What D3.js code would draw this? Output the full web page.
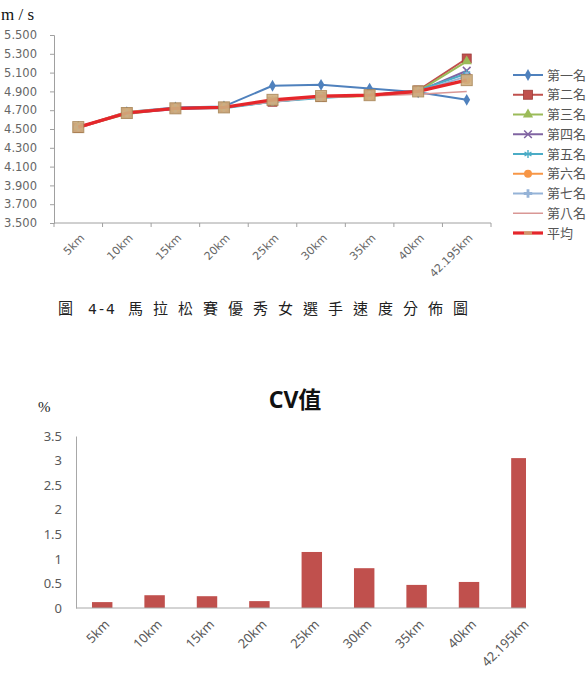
<!DOCTYPE html>
<html>
<head>
    <meta charset="utf-8">
    <title>speed distribution</title>
    <script type="text/javascript" src="https://cdn.jsdelivr.net/npm/d3@7/dist/d3.min.js"></script>
    <style>
        body { margin: 0; background: #fff; }
        svg { display: block; }
    </style>
</head>
<body>
<script type="text/javascript">

var distances = ["5km","10km","15km","20km","25km","30km","35km","40km","42.195km"]

// speed (m/s) per runner at each split
var runner1 = [4.52, 4.68, 4.73, 4.74, 4.96, 4.97, 4.93, 4.89, 4.81]
var runner2 = [4.51, 4.67, 4.72, 4.73, 4.79, 4.84, 4.86, 4.91, 5.25]
var runner3 = [4.52, 4.66, 4.72, 4.73, 4.79, 4.84, 4.85, 4.90, 5.22]
var runner4 = [4.52, 4.67, 4.71, 4.73, 4.80, 4.84, 4.86, 4.90, 5.12]
var runner5 = [4.52, 4.67, 4.72, 4.72, 4.79, 4.83, 4.86, 4.91, 5.09]
var runner6 = [4.52, 4.68, 4.72, 4.73, 4.80, 4.84, 4.85, 4.90, 5.02]
var runner7 = [4.52, 4.67, 4.72, 4.73, 4.79, 4.84, 4.86, 4.90, 5.06]
var runner8 = [4.51, 4.67, 4.72, 4.73, 4.79, 4.84, 4.85, 4.87, 4.90]
var average = [4.52, 4.67, 4.72, 4.73, 4.81, 4.85, 4.86, 4.90, 5.02]

var seriesNames = ["第一名","第二名","第三名","第四名","第五名","第六名","第七名","第八名","平均"]
var speedTicks = [3.5, 3.7, 3.9, 4.1, 4.3, 4.5, 4.7, 4.9, 5.1, 5.3, 5.5]

// coefficient of variation (%) at each split
var cvValues = [0.12, 0.26, 0.24, 0.14, 1.14, 0.81, 0.47, 0.53, 3.05]
var cvTicks = [0, 0.5, 1, 1.5, 2, 2.5, 3, 3.5]

var width = 586
var height = 688
var svg = d3.select("body").append("svg").attr("width", width).attr("height", height)

// ---------- top chart: line chart ----------
var allSeries = [runner1, runner2, runner3, runner4, runner5, runner6, runner7, runner8, average]
var styles = [
    {color:"#4F81BD", w:2,   marker:"diamond"},
    {color:"#C0504D", w:2,   marker:"square"},
    {color:"#9BBB59", w:2,   marker:"triangle"},
    {color:"#8064A2", w:2,   marker:"cross"},
    {color:"#4BACC6", w:2,   marker:"star"},
    {color:"#F79646", w:2,   marker:"circle"},
    {color:"#95B3D7", w:2,   marker:"plus"},
    {color:"#D99795", w:1.5, marker:"none"},
    {color:"#E5262B", w:3.2, marker:"avg"}
]

var xTop = d3.scaleBand().domain(distances).range([54, 491])
var yTop = d3.scaleLinear().domain([3.5, 5.5]).range([223, 35])

var topChart = svg.append("g")

var yAxisTop = topChart.append("g")
    .attr("transform", "translate(54,0)")
    .call(d3.axisLeft(yTop).tickValues(speedTicks).tickFormat(d3.format(".3f")).tickSize(4).tickPadding(13))
yAxisTop.select(".domain").attr("stroke", "#a0a0a0")
yAxisTop.selectAll(".tick line").attr("stroke", "#a0a0a0")
yAxisTop.selectAll(".tick text")
    .attr("font-family", "DejaVu Sans").attr("font-size", 11.5).attr("fill", "#666")

// x axis line with ticks on category boundaries
topChart.append("line")
    .attr("x1", 54).attr("x2", 491).attr("y1", 223).attr("y2", 223)
    .attr("stroke", "#a0a0a0")
topChart.append("g").selectAll("line")
    .data(distances.concat(["end"]))
    .enter().append("line")
    .attr("x1", function(d, i){ return 54 + i * xTop.step() })
    .attr("x2", function(d, i){ return 54 + i * xTop.step() })
    .attr("y1", 223).attr("y2", 227)
    .attr("stroke", "#a0a0a0")

topChart.append("g").selectAll("text")
    .data(distances)
    .enter().append("text")
    .attr("transform", function(d){
        return "translate(" + (xTop(d) + xTop.bandwidth() / 2 + 4) + ",236) rotate(-45)"
    })
    .attr("text-anchor", "end")
    .attr("dy", "0.35em")
    .attr("font-family", "DejaVu Sans").attr("font-size", 11).attr("fill", "#666")
    .text(function(d){ return d })

topChart.append("text")
    .attr("x", 1).attr("y", 20)
    .attr("font-family", "Liberation Serif").attr("font-size", 17).attr("fill", "#111")
    .text("m / s")

function cx(i){ return xTop(distances[i]) + xTop.bandwidth() / 2 }

var line = d3.line()
    .x(function(d, i){ return cx(i) })
    .y(function(d){ return yTop(d) })

function drawMarker(g, type, color, x, y){
    if (type == "diamond") {
        g.append("path").attr("d", d3.symbol(d3.symbolDiamond, 40)())
            .attr("transform", "translate(" + x + "," + y + ")").attr("fill", color)
    } else if (type == "square") {
        g.append("rect").attr("x", x - 4.5).attr("y", y - 4.5).attr("width", 9).attr("height", 9)
            .attr("fill", color).attr("stroke", "#9c3b38").attr("stroke-width", 0.8)
    } else if (type == "triangle") {
        g.append("path").attr("d", d3.symbol(d3.symbolTriangle, 45)())
            .attr("transform", "translate(" + x + "," + y + ")").attr("fill", color)
    } else if (type == "cross") {
        g.append("path").attr("d", d3.symbol(d3.symbolTimes, 40)())
            .attr("transform", "translate(" + x + "," + y + ")").attr("fill", "none")
            .attr("stroke", color).attr("stroke-width", 1.5)
    } else if (type == "star") {
        g.append("path").attr("d", d3.symbol(d3.symbolAsterisk, 45)())
            .attr("transform", "translate(" + x + "," + y + ")").attr("fill", "none")
            .attr("stroke", color).attr("stroke-width", 1.4)
    } else if (type == "circle") {
        g.append("circle").attr("cx", x).attr("cy", y).attr("r", 4).attr("fill", color)
    } else if (type == "plus") {
        g.append("path").attr("d", d3.symbol(d3.symbolCross, 40)())
            .attr("transform", "translate(" + x + "," + y + ")").attr("fill", color)
    } else if (type == "avg") {
        g.append("rect").attr("x", x - 5.5).attr("y", y - 5.5).attr("width", 11).attr("height", 11)
            .attr("fill", "#CFAE7E").attr("stroke", "#A98656").attr("stroke-width", 1)
            .attr("opacity", 0.9)
    }
}

allSeries.forEach(function(values, s){
    var st = styles[s]
    var g = topChart.append("g")
    g.append("path")
        .datum(values)
        .attr("d", line)
        .attr("fill", "none")
        .attr("stroke", st.color)
        .attr("stroke-width", st.w)
        .attr("stroke-linejoin", "round")
    values.forEach(function(v, i){
        drawMarker(g, st.marker, st.color, cx(i), yTop(v))
    })
})

// legend
var legend = topChart.append("g")
seriesNames.forEach(function(name, s){
    var st = styles[s]
    var ly = 75 + s * 19.75
    legend.append("line")
        .attr("x1", 513).attr("x2", 543).attr("y1", ly).attr("y2", ly)
        .attr("stroke", st.color).attr("stroke-width", st.w)
    var m = legend.append("g")
    if (st.marker == "avg") {
        m.append("rect").attr("x", 524).attr("y", ly - 2).attr("width", 8).attr("height", 4)
            .attr("fill", "#CFAE7E").attr("opacity", 0.8)
    } else {
        drawMarker(m, st.marker, st.color, 528, ly)
    }
    legend.append("text")
        .attr("x", 547).attr("y", ly).attr("dy", "0.36em")
        .attr("font-family", "Noto Sans CJK TC").attr("font-size", 13).attr("fill", "#555")
        .text(name)
})

// ---------- caption ----------
var cap = svg.append("g")
    .attr("font-family", "Noto Sans CJK TC").attr("font-size", 15).attr("fill", "#222")
cap.append("text").attr("x", 58).attr("y", 314).text("圖")
cap.append("text").attr("x", 88).attr("y", 314).attr("letter-spacing", 2)
    .attr("font-family", "DejaVu Sans").attr("font-size", 14).text("4-4")
cap.append("text").attr("x", 128).attr("y", 314).attr("letter-spacing", 10)
    .text("馬拉松賽優秀女選手速度分佈圖")

// ---------- bottom chart: CV bars ----------
var xBot = d3.scaleBand().domain(distances).range([76, 76 + 9 * 52.4])
    .paddingInner(0.61).paddingOuter(0.305)
var yBot = d3.scaleLinear().domain([0, 3.5]).range([608, 436])

var bottomChart = svg.append("g")

svg.append("clipPath").attr("id", "clipBot")
    .append("rect").attr("x", 0).attr("y", 380).attr("width", 526).attr("height", 300)

bottomChart.append("text")
    .attr("x", 295).attr("y", 408).attr("text-anchor", "middle")
    .attr("font-family", "Noto Sans, Noto Sans CJK TC").attr("font-weight", "bold")
    .attr("font-size", 23).attr("fill", "#111")
    .text("CV值")

bottomChart.append("text")
    .attr("x", 38).attr("y", 412)
    .attr("font-family", "Liberation Serif").attr("font-size", 15).attr("fill", "#222")
    .text("%")

var yAxisBot = bottomChart.append("g")
    .attr("transform", "translate(76,0)")
    .call(d3.axisLeft(yBot).tickValues(cvTicks).tickFormat(d3.format("")).tickSize(0).tickPadding(14))
yAxisBot.select(".domain").attr("stroke", "#a8a8a8")
yAxisBot.selectAll(".tick text")
    .attr("font-family", "Noto Sans").attr("font-size", 13).attr("fill", "#595959")

bottomChart.append("g")
    .attr("clip-path", "url(#clipBot)")
    .selectAll("rect")
    .data(cvValues)
    .enter().append("rect")
    .attr("x", function(d, i){ return xBot(distances[i]) })
    .attr("y", function(d){ return yBot(d) })
    .attr("width", xBot.bandwidth())
    .attr("height", function(d){ return yBot(0) - yBot(d) })
    .attr("fill", "#C0504D")

bottomChart.append("line")
    .attr("x1", 76).attr("x2", 526).attr("y1", 608).attr("y2", 608)
    .attr("stroke", "#a8a8a8")

bottomChart.append("g").selectAll("text")
    .data(distances)
    .enter().append("text")
    .attr("transform", function(d){
        return "translate(" + (xBot(d) + xBot.bandwidth() / 2 + 5) + ",622) rotate(-45)"
    })
    .attr("text-anchor", "end")
    .attr("dy", "0.35em")
    .attr("font-family", "Noto Sans").attr("font-size", 13).attr("fill", "#595959")
    .text(function(d){ return d })

</script>
</body>
</html>
